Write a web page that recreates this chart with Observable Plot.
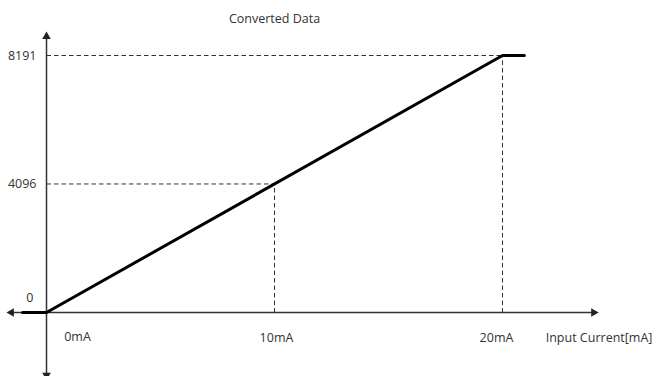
<!DOCTYPE html>
<html><head><meta charset="utf-8">
<script src="https://cdn.jsdelivr.net/npm/d3@7"></script>
<script src="https://cdn.jsdelivr.net/npm/@observablehq/plot@0.6"></script>
<style>
html,body{margin:0;padding:0;background:#fff;}
svg{font-family:"Open Sans","Noto Sans",sans-serif;}
</style>
</head><body>
<div id="chart"></div>
<script>
// data
const currentMA = [-1.05, 0, 20, 20.96];
const converted = [0, 0, 8191, 8191];
const xTickValues = [0, 10, 20];
const xTickLabels = ["0mA", "10mA", "20mA"];
const yTickValues = [0, 4096, 8191];
const yTickLabels = ["0", "4096", "8191"];
const xAxisLabel = "Input Current[mA]";
const yAxisLabel = "Converted Data";
const xAxisExtent = [-1.54, 24.0];
const yAxisExtent = [-2000, 8800];

const line = currentMA.map((x, i) => ({x, y: converted[i]}));
const xt = xTickValues.map((v, i) => ({v, label: xTickLabels[i]}));
const yt = yTickValues.map((v, i) => ({v, label: yTickLabels[i]}));
const guides = [
  {x: 10, y: 4096},
  {x: 20, y: 8191}
];

const fs = 12.5;
const chart = Plot.plot({
  width: 659,
  height: 376,
  margin: 0,
  x: {domain: [0, 20], range: [46, 502], axis: null},
  y: {domain: [0, 8191], range: [312, 55], axis: null},
  marks: [
    Plot.link(guides, {x1: 0, y1: "y", x2: "x", y2: "y", stroke: "#333", strokeWidth: 1, strokeDasharray: "4.5,3"}),
    Plot.link(guides, {x1: "x", y1: 0, x2: "x", y2: "y", stroke: "#333", strokeWidth: 1, strokeDasharray: "4.5,3"}),
    Plot.link([{a: xAxisExtent[0], b: xAxisExtent[1]}], {x1: "a", x2: "b", y1: 0, y2: 0, stroke: "#333", strokeWidth: 1.5}),
    Plot.link([{a: yAxisExtent[0], b: yAxisExtent[1]}], {y1: "a", y2: "b", x1: 0, x2: 0, stroke: "#333", strokeWidth: 1.5}),
    Plot.dot([{x: xAxisExtent[0], r: -90}, {x: xAxisExtent[1], r: 90}], {x: "x", y: 0, rotate: "r", symbol: "triangle", r: 3.2, fill: "#222", stroke: "none"}),
    Plot.dot([{y: yAxisExtent[0], r: 180}, {y: yAxisExtent[1], r: 0}], {x: 0, y: "y", rotate: "r", symbol: "triangle", r: 3.2, fill: "#222", stroke: "none"}),
    Plot.line(line, {x: "x", y: "y", stroke: "#000", strokeWidth: 3, strokeLinejoin: "miter"}),
    Plot.text(yt.filter(d => d.v !== 0), {x: 0, y: "v", text: "label", textAnchor: "end", dx: -10, fontSize: fs, fill: "#333"}),
    Plot.text(yt.filter(d => d.v === 0), {x: 0, y: "v", text: "label", textAnchor: "end", dx: -13, dy: -15, fontSize: fs, fill: "#333"}),
    Plot.text(xt.filter(d => d.v === 0), {x: "v", y: 0, text: "label", dx: 31, dy: 24, fontSize: fs, fill: "#333"}),
    Plot.text(xt.filter(d => d.v === 10), {x: "v", y: 0, text: "label", dx: 2, dy: 25, fontSize: fs, fill: "#333"}),
    Plot.text(xt.filter(d => d.v === 20), {x: "v", y: 0, text: "label", dx: -6, dy: 25, fontSize: fs, fill: "#333"}),
    Plot.text([xAxisLabel], {x: xAxisExtent[1], y: 0, text: d => d, textAnchor: "start", dx: -48, dy: 25, fontSize: fs, fill: "#333"}),
    Plot.text([yAxisLabel], {x: 10, y: yAxisExtent[1], text: d => d, dx: 0, dy: -17, fontSize: fs, fill: "#333"})
  ]
});
document.getElementById("chart").appendChild(chart);
</script>
</body></html>
